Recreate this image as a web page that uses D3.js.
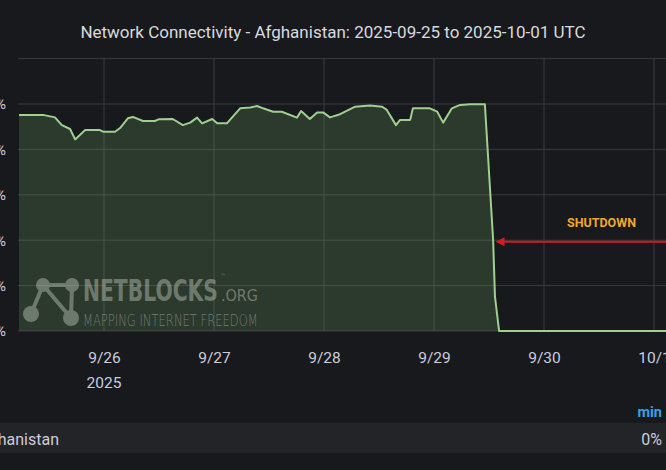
<!DOCTYPE html>
<html><head><meta charset="utf-8">
<script src="https://cdn.jsdelivr.net/npm/d3@7"></script>
<style>
html,body{margin:0;padding:0;background:#18191c;overflow:hidden;}
svg{display:block;}
</style></head>
<body>
<svg id="chart" width="666" height="470"></svg>
<script>
// ---- data ----
const times = [
"2025-09-25T05:27","2025-09-25T10:42","2025-09-25T13:18","2025-09-25T14:48","2025-09-25T16:36",
"2025-09-25T17:42","2025-09-25T19:54","2025-09-25T23:06","2025-09-25T23:48","2025-09-26T02:24",
"2025-09-26T03:30","2025-09-26T05:12","2025-09-26T06:18","2025-09-26T08:30","2025-09-26T11:06",
"2025-09-26T12:00","2025-09-26T15:00","2025-09-26T17:12","2025-09-26T18:48","2025-09-26T20:18",
"2025-09-26T21:24","2025-09-26T23:36","2025-09-27T00:42","2025-09-27T02:48","2025-09-27T05:42",
"2025-09-27T07:54","2025-09-27T09:24","2025-09-27T10:42","2025-09-27T12:54","2025-09-27T14:48",
"2025-09-27T18:06","2025-09-27T19:00","2025-09-27T20:54","2025-09-27T22:30","2025-09-27T23:48",
"2025-09-28T01:18","2025-09-28T03:30","2025-09-28T06:48","2025-09-28T10:00","2025-09-28T12:42",
"2025-09-28T13:42","2025-09-28T15:42","2025-09-28T16:36","2025-09-28T18:48","2025-09-28T19:24",
"2025-09-28T21:24","2025-09-28T23:06","2025-09-29T00:42","2025-09-29T02:00","2025-09-29T03:54",
"2025-09-29T05:42","2025-09-29T07:54","2025-09-29T11:06","2025-09-29T12:54","2025-09-29T13:18",
"2025-09-29T14:12","2025-09-30T12:00","2025-10-01T03:00"
];
const connectivity = [
95.2,95.2,94.1,90.7,89.0,
84.4,88.5,88.5,87.8,87.8,
89.4,93.7,94.3,92.5,92.5,
93.3,93.4,90.7,91.8,94.0,
91.5,93.4,91.5,91.5,98.1,
98.5,99.1,98.1,96.6,96.6,
94.0,96.9,93.4,96.3,96.3,
94.1,95.5,98.8,99.3,98.8,
97.4,90.7,93.0,93.0,98.1,
98.1,98.1,96.6,91.8,98.1,
99.6,99.9,99.9,40.1,15.1,
0,0,0
];
const yTickValues = [0,20,40,60,80,100];
const yGridValues = [0,20,40,60,80,100,120];
const xTickLabels = ["9/26","9/27","9/28","9/29","9/30","10/1"];
const seriesName = "Afghanistan";
const legendStatLabel = "min";
const legendStatValue = "0%";
const titleText = "Network Connectivity - Afghanistan: 2025-09-25 to 2025-10-01 UTC";
const annotationText = "SHUTDOWN";
const annotationValue = 40;
const annotationStart = "2025-09-29T13:00";

// ---- layout ----
const svg = d3.select("#chart");
const W = 666, H = 470;
const plot = {left: 18, right: 666, top: 58.6, bottom: 331};
const parse = d3.utcParse("%Y-%m-%dT%H:%M");
const data = times.map((t,i)=>({t: parse(t), v: connectivity[i]}));

const x = d3.scaleUtc()
  .domain([parse("2025-09-26T00:00"), parse("2025-10-01T00:00")])
  .range([104, 654]);
const y = d3.scaleLinear().domain([0,120]).range([plot.bottom, plot.top]);

svg.append("rect").attr("width",W).attr("height",H).attr("fill","#18191c");

// title
svg.append("text").attr("x",333).attr("y",38).attr("text-anchor","middle")
  .attr("font-family","Roboto, 'Noto Sans', sans-serif").attr("font-size",17)
  .attr("fill","#d8d9de").text(titleText);

svg.append("defs").append("clipPath").attr("id","clip")
  .append("rect").attr("x",plot.left).attr("y",plot.top-2)
  .attr("width",plot.right-plot.left).attr("height",plot.bottom-plot.top+4);

// grid
const grid = svg.append("g");
grid.selectAll("line.h").data(yGridValues).join("line")
  .attr("x1",plot.left).attr("x2",plot.right)
  .attr("y1",d=>y(d)).attr("y2",d=>y(d))
  .attr("stroke","#3a3b40").attr("stroke-width",1);
const dayTicks = x.ticks(d3.utcDay.every(1));
grid.selectAll("line.v").data(dayTicks).join("line")
  .attr("x1",d=>x(d)).attr("x2",d=>x(d))
  .attr("y1",plot.top).attr("y2",plot.bottom)
  .attr("stroke","#3a3b40").attr("stroke-width",1);

// area + line
const g = svg.append("g").attr("clip-path","url(#clip)");
const area = d3.area().x(d=>x(d.t)).y0(y(0)).y1(d=>y(d.v));
const line = d3.line().x(d=>x(d.t)).y(d=>y(d.v));
g.append("path").datum(data).attr("d",area).attr("fill","#7fb872").attr("fill-opacity",0.2);
g.append("path").datum(data).attr("d",line).attr("fill","none")
  .attr("stroke","#9fd08f").attr("stroke-width",2).attr("stroke-linejoin","round");

// y axis labels (mostly off-canvas, as in the reference)
const yAxis = d3.axisLeft(y).tickValues(yTickValues).tickFormat(d=>d+"%").tickSize(0).tickPadding(0);
const ya = svg.append("g").attr("transform","translate(6,0)").call(yAxis);
ya.select(".domain").remove();
ya.selectAll("text").attr("font-family","Roboto, sans-serif").attr("font-size",15).attr("fill","#ccccdc");

// x axis
const xAxis = d3.axisBottom(x).tickValues(dayTicks).tickFormat((d,i)=>xTickLabels[i]).tickSize(0).tickPadding(0);
const xa = svg.append("g").attr("transform","translate(0,352)").call(xAxis);
xa.select(".domain").remove();
xa.selectAll("text").attr("font-family","Roboto, sans-serif").attr("font-size",15.5).attr("fill","#ccccdc");
svg.append("text").attr("x",x(dayTicks[0])).attr("y",388).attr("text-anchor","middle")
  .attr("font-family","Roboto, sans-serif").attr("font-size",15.5).attr("fill","#ccccdc").text("2025");

// watermark
const wm = svg.append("g").attr("opacity",0.42);
const nodes = [[43,285,7],[72,285,7],[31,314,8],[71,318,8]];
const links = [[0,1],[0,2],[0,3],[1,3]];
wm.selectAll("line").data(links).join("line")
  .attr("x1",d=>nodes[d[0]][0]).attr("y1",d=>nodes[d[0]][1])
  .attr("x2",d=>nodes[d[1]][0]).attr("y2",d=>nodes[d[1]][1])
  .attr("stroke","#c9d2c6").attr("stroke-width",4);
wm.selectAll("circle").data(nodes).join("circle")
  .attr("cx",d=>d[0]).attr("cy",d=>d[1]).attr("r",d=>d[2]).attr("fill","#c9d2c6");
function fitText(txt, x0, yBase, width, size, weight){
  const t = wm.append("text").attr("x",0).attr("y",0)
    .attr("font-family","'DejaVu Sans', sans-serif").attr("font-weight",weight)
    .attr("font-size",size).attr("fill","#c9d2c6").text(txt);
  const natural = t.node().getComputedTextLength() || width;
  t.attr("transform",`translate(${x0},${yBase}) scale(${width/natural},1)`);
  return t;
}
fitText("NETBLOCKS", 83, 301, 135, 30, "bold");
fitText("™", 220, 278, 6, 6, "normal");
fitText(".ORG", 221, 301, 37, 16, "normal");
fitText("MAPPING INTERNET FREEDOM", 83, 326, 175, 15, "300");

// annotation
const ay = y(annotationValue) + 1.5;
const ax0 = x(parse(annotationStart)) + 2;
svg.append("line").attr("x1",ax0+6).attr("x2",W).attr("y1",ay).attr("y2",ay)
  .attr("stroke","#d01c24").attr("stroke-width",2);
svg.append("path")
  .attr("d",`M${ax0},${ay} L${ax0+9},${ay-4.5} L${ax0+9},${ay+4.5} Z`)
  .attr("fill","#d01c24");
svg.append("text").attr("x",601.5).attr("y",226.5).attr("text-anchor","middle")
  .attr("font-family","Roboto, sans-serif").attr("font-weight","bold").attr("font-size",12.5)
  .attr("fill","#f0a62a").text(annotationText);

// legend
svg.append("text").attr("x",662).attr("y",417).attr("text-anchor","end")
  .attr("font-family","Roboto, sans-serif").attr("font-weight","bold").attr("font-size",14.5)
  .attr("fill","#33a2e5").text(legendStatLabel);
svg.append("rect").attr("x",0).attr("y",423).attr("width",W).attr("height",30).attr("fill","#232428");
svg.append("text").attr("x",59).attr("y",444.5).attr("text-anchor","end")
  .attr("font-family","Roboto, sans-serif").attr("font-size",16)
  .attr("fill","#ccccdc").text(seriesName);
svg.append("text").attr("x",662).attr("y",444.5).attr("text-anchor","end")
  .attr("font-family","Roboto, sans-serif").attr("font-size",16)
  .attr("fill","#ccccdc").text(legendStatValue);
</script>
</body></html>
